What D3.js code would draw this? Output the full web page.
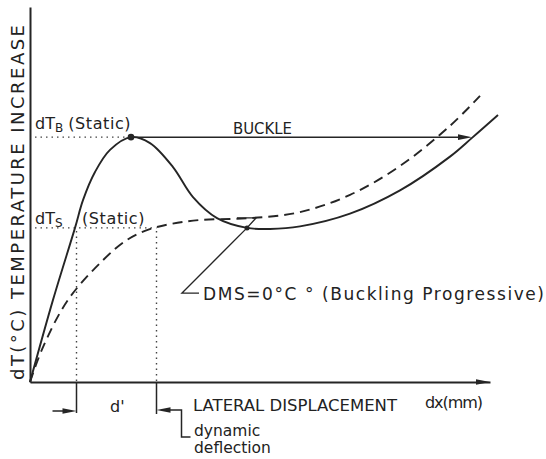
<!DOCTYPE html>
<html>
<head>
<meta charset="utf-8">
<script src="https://cdn.jsdelivr.net/npm/d3@7"></script>
<style>
  body { margin: 0; background: #fff; }
  text { font-family: "DejaVu Sans", sans-serif; fill: #222; }
</style>
</head>
<body>
<div id="chart"></div>
<script>
// schematic curves (dx, dT in arbitrary units)
var staticCurve = [
	[0, 0], [4.6, 21.9], [9, 41.1], [10.6, 48.5], [13, 56], [16, 61.9],
	[20.2, 65.3], [24, 63.7], [28.6, 57.3], [32.6, 49.3], [37.4, 43.7],
	[43.4, 41.1], [48, 40.8], [54, 41.5], [64, 44.9], [74, 51.1],
	[84, 60.1], [88.4, 65.1], [93.6, 71.2]
];
var dynamicCurve = [
	[0, 0], [2.6, 9.3], [7.6, 21.9], [14.6, 32.5], [19.4, 37.9],
	[23.4, 40.5], [28, 42.1], [34, 43.2], [44, 43.7], [54, 45.3],
	[64, 49.9], [74, 57.6], [84, 68.3], [90, 76.3]
];

// key levels
var dTB = 65.3, dTS = 41.1;
var peakX = 20.2;
var buckleEnd = 88.4;
var dStart = 9.3, dEnd = 25.3;   // d' and dynamic deflection
var dmsPoint = [43.4, 41.1];
var dmsLabelAt = [30.4, 23.7];

var width = 546, height = 459;

var x = d3.scaleLinear().domain([0, 92]).range([30, 490]);
var y = d3.scaleLinear().domain([0, 100]).range([382, 7]);

var svg = d3.select('#chart').append('svg')
	.attr('width', width)
	.attr('height', height);

var ink = '#252525';

// axes (no ticks, just the lines)
svg.append('g')
	.attr('transform', 'translate(0,' + y(0) + ')')
	.call(d3.axisBottom(x).tickValues([]).tickSizeOuter(0))
	.select('.domain').attr('stroke', ink).attr('stroke-width', 2);
svg.append('g')
	.attr('transform', 'translate(' + x(0) + ',0)')
	.call(d3.axisLeft(y).tickValues([]).tickSizeOuter(0))
	.select('.domain').attr('stroke', ink).attr('stroke-width', 2);

function arrowHead(tipX, tipY, dir) {
	// dir = 1 points right, -1 points left
	var len = 14, hw = 2.8;
	return 'M' + tipX + ',' + tipY +
		'L' + (tipX - dir * len) + ',' + (tipY - hw) +
		'L' + (tipX - dir * len) + ',' + (tipY + hw) + 'Z';
}

// x axis arrow
svg.append('path').attr('d', arrowHead(x(92), y(0), 1)).attr('fill', ink);

// dotted guide lines
var dotted = svg.append('g')
	.attr('stroke', '#444')
	.attr('stroke-width', 1.4)
	.attr('stroke-dasharray', '1.5,4')
	.attr('fill', 'none');
dotted.append('line').attr('x1', x(1)).attr('x2', x(peakX) - 3)
	.attr('y1', y(dTB)).attr('y2', y(dTB));
dotted.append('line').attr('x1', x(1)).attr('x2', x(dEnd))
	.attr('y1', y(dTS)).attr('y2', y(dTS));
dotted.append('line').attr('x1', x(dStart)).attr('x2', x(dStart))
	.attr('y1', y(dTS) + 3).attr('y2', y(0));
dotted.append('line').attr('x1', x(dEnd)).attr('x2', x(dEnd))
	.attr('y1', y(dTS) + 3).attr('y2', y(0));

// curves
var line = d3.line()
	.x(function(d) { return x(d[0]); })
	.y(function(d) { return y(d[1]); })
	.curve(d3.curveCatmullRom.alpha(0.5));

svg.append('path')
	.datum(staticCurve)
	.attr('d', line)
	.attr('fill', 'none')
	.attr('stroke', ink)
	.attr('stroke-width', 1.9);

svg.append('path')
	.datum(dynamicCurve)
	.attr('d', line)
	.attr('fill', 'none')
	.attr('stroke', ink)
	.attr('stroke-width', 1.9)
	.attr('stroke-dasharray', '10,6');

// buckle jump
svg.append('line')
	.attr('x1', x(peakX)).attr('x2', x(buckleEnd) - 10)
	.attr('y1', y(dTB)).attr('y2', y(dTB))
	.attr('stroke', ink).attr('stroke-width', 1.5);
svg.append('path').attr('d', arrowHead(x(buckleEnd), y(dTB), 1)).attr('fill', ink);

// points
svg.append('circle').attr('cx', x(peakX)).attr('cy', y(dTB)).attr('r', 3.3).attr('fill', ink);
svg.append('circle').attr('cx', x(dmsPoint[0])).attr('cy', y(dmsPoint[1])).attr('r', 2.5).attr('fill', ink);

// DMS leader
var lx = x(dmsLabelAt[0]), ly = y(dmsLabelAt[1]);
var px = x(dmsPoint[0]), py = y(dmsPoint[1]);
svg.append('path')
	.attr('d', 'M' + (lx + 17) + ',' + ly + 'H' + lx + 'L' + px + ',' + py +
		'M' + (px - 10) + ',' + (py - 10) + 'H' + (px + 9) + 'L' + px + ',' + py)
	.attr('fill', 'none').attr('stroke', ink).attr('stroke-width', 1.4);

// d' / dynamic deflection markers below the axis
var x1 = x(dStart), x2 = x(dEnd), y0 = y(0);
svg.append('path')
	.attr('d', 'M' + x1 + ',' + y0 + 'V' + (y0 + 31) +
		'M' + (x1 - 24) + ',' + (y0 + 29) + 'H' + (x1 - 8) +
		'M' + x2 + ',' + y0 + 'V' + (y0 + 32) +
		'M' + (x2 + 8) + ',' + (y0 + 28) + 'H' + (x2 + 25) + 'V' + (y0 + 55) + 'H' + (x2 + 34))
	.attr('fill', 'none').attr('stroke', ink).attr('stroke-width', 1.5);
svg.append('path').attr('d', arrowHead(x1, y0 + 29, 1)).attr('fill', ink);
svg.append('path').attr('d', arrowHead(x2, y0 + 28, -1)).attr('fill', ink);

// texts
var fs = 16;
var tB = svg.append('text').attr('x', 35).attr('y', y(dTB) - 8).attr('font-size', fs);
tB.append('tspan').text('dT');
tB.append('tspan').attr('font-size', 12).attr('dy', 3).text('B');
tB.append('tspan').attr('dy', -3).attr('dx', 5).text('(Static)').attr('letter-spacing', 0.6);

var tS = svg.append('text').attr('x', 35).attr('y', y(dTS) - 4).attr('font-size', fs);
tS.append('tspan').text('dT');
tS.append('tspan').attr('font-size', 12).attr('dy', 3).text('S');
svg.append('text').attr('x', 82).attr('y', y(dTS) - 4).attr('font-size', fs)
	.attr('letter-spacing', 0.6).text('(Static)');

svg.append('text').attr('x', 233).attr('y', y(dTB) - 3).attr('font-size', fs)
	.attr('textLength', 59).attr('lengthAdjust', 'spacingAndGlyphs').text('BUCKLE');

svg.append('text').attr('x', lx + 21).attr('y', ly + 7).attr('font-size', 17)
	.attr('textLength', 341).attr('lengthAdjust', 'spacing')
	.text('DMS=0°C ° (Buckling Progressive)');

svg.append('text').attr('x', 193).attr('y', y0 + 29).attr('font-size', fs)
	.attr('textLength', 204).attr('lengthAdjust', 'spacingAndGlyphs').text('LATERAL DISPLACEMENT');
svg.append('text').attr('x', 425).attr('y', y0 + 26).attr('font-size', fs)
	.attr('textLength', 58).attr('lengthAdjust', 'spacing').text('dx(mm)');

svg.append('text').attr('x', 110).attr('y', y0 + 30).attr('font-size', fs).text("d'");
svg.append('text').attr('x', 194).attr('y', y0 + 54).attr('font-size', 15.5).text('dynamic');
svg.append('text').attr('x', 194).attr('y', y0 + 71).attr('font-size', 15.5).text('deflection');

svg.append('text')
	.attr('transform', 'translate(24,380) rotate(-90)')
	.attr('font-size', 18)
	.attr('textLength', 355).attr('lengthAdjust', 'spacing')
	.text('dT(°C) TEMPERATURE INCREASE');
</script>
</body>
</html>
